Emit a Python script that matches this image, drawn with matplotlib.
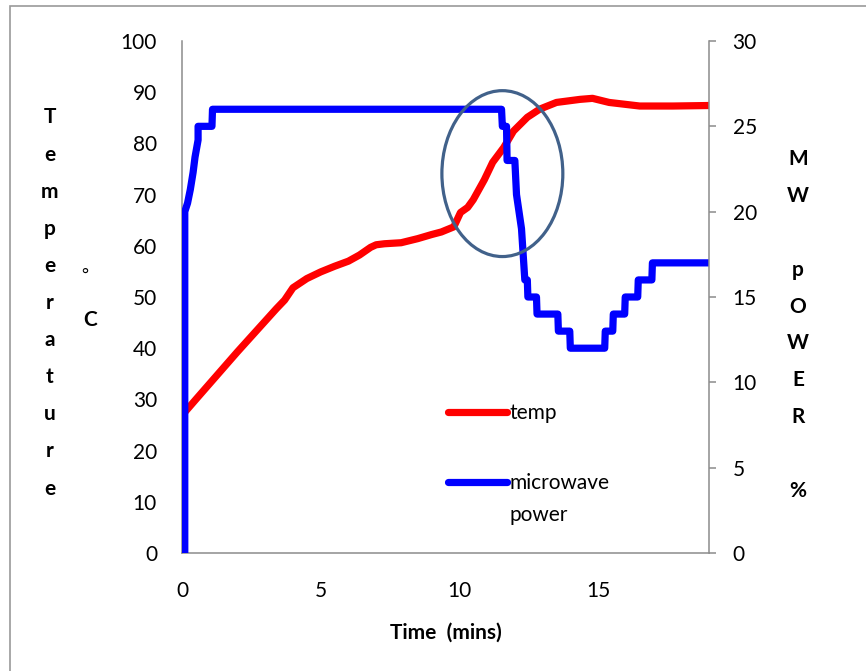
import matplotlib
matplotlib.use("Agg")

import matplotlib.pyplot as plt
from matplotlib.patches import Ellipse, Rectangle
from matplotlib.lines import Line2D

plt.rcParams['font.family'] = ['Lato', 'DejaVu Sans']

# temperature trace (deg C) against time (mins)
temp_time = [0.1, 0.5, 1.0, 1.5, 2.0, 2.5, 3.0, 3.4, 3.7, 4.0,
             4.5, 5.0, 5.5, 6.0, 6.4, 6.8, 7.0, 7.3, 7.9, 8.5,
             9.0, 9.35, 9.8, 10.04, 10.3, 10.5, 10.9, 11.2, 11.6, 11.95,
             12.45, 12.9, 13.5, 14.35, 14.8, 15.4, 16.5, 17.7, 19.0]
temp_vals = [27.5, 30.0, 33.1, 36.2, 39.3, 42.3, 45.3, 47.7, 49.4, 51.8,
             53.6, 54.9, 56.0, 57.0, 58.2, 59.7, 60.2, 60.4, 60.6, 61.4,
             62.2, 62.7, 63.7, 66.5, 67.5, 69.0, 72.9, 76.3, 79.2, 82.4,
             85.1, 86.7, 88.0, 88.6, 88.8, 88.0, 87.3, 87.3, 87.4]

# microwave power (%) against time (mins)
power_time = [0.1, 0.1, 0.2, 0.3, 0.4, 0.47, 0.58, 0.58, 1.08, 1.1,
              11.52, 11.55, 11.7, 11.72, 12.0, 12.06, 12.24, 12.36, 12.45, 12.47,
              12.78, 12.8, 13.55, 13.57, 13.98, 14.0, 15.24, 15.26, 15.53, 15.55,
              15.96, 15.98, 16.43, 16.45, 16.94, 16.96, 19.0]
power_vals = [0, 20, 20.5, 21.3, 22.3, 23.2, 24.2, 25, 25, 26,
              26, 25, 25, 23, 23, 21, 19, 16, 16, 15,
              15, 14, 14, 13, 13, 12, 12, 13, 13, 14,
              14, 15, 15, 16, 16, 17, 17]

x_ticks = [0, 5, 10, 15]
temp_ticks = list(range(0, 101, 10))
power_ticks = list(range(0, 31, 5))

grey = "#8c8c8c"
fs = 15
lw = 5.2

fig = plt.figure(figsize=(8.66, 6.71), dpi=100)
ax = fig.add_axes([182 / 866, 1 - 553 / 671, 527 / 866, 512 / 671])
ax2 = ax.twinx()

ax.plot(temp_time, temp_vals, color="#ff0000", lw=lw)
ax2.plot(power_time, power_vals, color="#0000ff", lw=lw)

# highlight ellipse over the crossover region
ax2.add_patch(Ellipse((11.55, 74.1), 4.36, 32.4, transform=ax.transData,
                      fill=False, edgecolor="#41618a", lw=2.3, zorder=5))

ax.set_xlim(0, 19)
ax.set_ylim(0, 100)
ax2.set_ylim(0, 30)
ax.set_xticks(x_ticks)
ax.set_yticks(temp_ticks)
ax2.set_yticks(power_ticks)

for a in (ax, ax2):
    a.spines["top"].set_visible(False)
    for s in a.spines.values():
        s.set_color(grey)
        s.set_linewidth(1.1)
ax2.spines["left"].set_visible(False)
ax2.spines["bottom"].set_visible(False)
ax.spines["right"].set_visible(False)

ax.tick_params(axis="y", length=0, pad=18, labelsize=fs)
ax.tick_params(axis="x", length=0, pad=20, labelsize=fs)
ax2.tick_params(axis="y", length=5, width=1.1, color=grey, direction="out",
                pad=12, labelsize=fs)

ax.set_xlabel("Time  (mins)", fontsize=fs, fontweight="bold", labelpad=16)

# vertical stacked axis titles
fig.text(50 / 866, 1 - 303 / 671, "T\ne\nm\np\ne\nr\na\nt\nu\nr\ne",
         ha="center", va="center", fontsize=fs, fontweight="bold",
         linespacing=2.07)
fig.text(85 / 866, 1 - 275 / 671, "°", ha="center", va="center", fontsize=12)
fig.text(90 / 866, 1 - 320 / 671, "C", ha="center", va="center",
         fontsize=fs, fontweight="bold")
fig.text(798 / 866, 1 - 325 / 671, "M\nW\n\np\nO\nW\nE\nR\n\n%",
         ha="center", va="center", fontsize=fs, fontweight="bold",
         linespacing=2.06)

handles = [Line2D([], [], color="#ff0000", lw=lw, solid_capstyle="round"),
           Line2D([], [], color="#0000ff", lw=lw, solid_capstyle="round")]
ax2.legend(handles, ["temp", "microwave"], loc="center left",
           bbox_to_anchor=(0.505, 0.205), frameon=False, fontsize=fs,
           borderpad=0, borderaxespad=0, handlelength=2.83,
           handletextpad=0.1, labelspacing=2.4)
ax2.text(0.6205, 0.074, "power", transform=ax2.transAxes, fontsize=fs,
         ha="left", va="center")

# outer chart border
fig.add_artist(Rectangle((10 / 866, -0.05), 1.0, 1.05 - 6 / 671,
                         transform=fig.transFigure, fill=False,
                         edgecolor="#9a9a9a", lw=1.2))

plt.savefig("out.png", dpi=100)
